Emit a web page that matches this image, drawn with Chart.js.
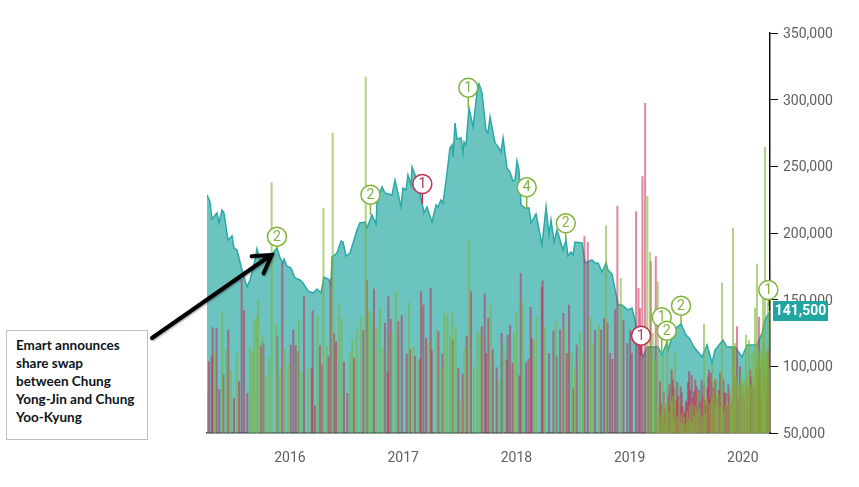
<!DOCTYPE html>
<html>
<head>
<meta charset="utf-8">
<style>
html, body { margin: 0; padding: 0; background: #fff; }
#wrap { position: relative; width: 859px; height: 487px; overflow: hidden; }
#nota {
  position: absolute; left: 6px; top: 330px; width: 131px; height: 103px;
  padding: 5px 0 0 9px; border: 1px solid #bfbfbf; background: #fff;
  font: bold 13.5px/18px Lato, sans-serif; color: #0b1420; white-space: nowrap;
}
</style>
</head>
<body>
<div id="wrap">
  <canvas id="grafico" width="859" height="487"></canvas>
  <div id="nota">Emart announces<br>share swap<br>between Chung<br>Yong-Jin and Chung<br>Yoo-Kyung</div>
</div>
<script src="https://cdn.jsdelivr.net/npm/chart.js@4"></script>
<script>
// precio de cierre
const precioFechas = [2015.267,2015.293,2015.311,2015.355,2015.373,2015.399,2015.417,2015.452,2015.488,2015.505,2015.532,2015.576,2015.620,2015.647,2015.691,2015.708,2015.735,2015.779,2015.841,2015.885,2015.912,2015.938,2015.947,2015.973,2016.009,2016.044,2016.088,2016.115,2016.159,2016.203,2016.239,2016.274,2016.300,2016.336,2016.362,2016.371,2016.415,2016.451,2016.468,2016.495,2016.530,2016.592,2016.618,2016.663,2016.680,2016.724,2016.760,2016.769,2016.813,2016.839,2016.901,2016.928,2016.981,
  2016.998,2017.025,2017.042,2017.069,2017.078,2017.122,2017.166,2017.184,2017.210,2017.254,2017.290,2017.307,2017.334,2017.352,2017.387,2017.413,2017.431,2017.440,2017.458,2017.475,2017.511,2017.528,2017.537,2017.555,2017.581,2017.617,2017.652,2017.670,2017.696,2017.731,2017.749,2017.767,2017.811,2017.846,2017.864,2017.882,2017.917,2017.943,2017.970,2017.988,2018.005,2018.023,2018.041,2018.076,2018.111,2018.129,2018.173,2018.226,2018.262,2018.288,2018.306,2018.332,2018.359,2018.412,2018.438,2018.456,2018.482,2018.500,2018.518,2018.580,2018.606,2018.668,2018.694,2018.721,2018.756,2018.792,2018.809,2018.845,2018.898,2018.933,2018.986,2019.021,2019.048,2019.074,2019.118,2019.154,2019.180,2019.251,2019.286,2019.330,2019.339,2019.375,2019.410,2019.454,2019.498,2019.525,2019.569,2019.640,2019.684,2019.728,2019.754,2019.825,2019.860,2019.931,2019.993,2020.037,2020.125,2020.170,2020.196,2020.240];
const precioValores = [228500,223250,210500,215000,207500,217250,215000,194750,197750,188750,187250,172250,159500,164750,179750,188000,179750,182750,184250,188750,181250,177500,180500,175250,173750,166250,164750,162500,156500,155000,158000,155000,167000,165500,161000,182000,185000,194000,193250,182750,185000,202250,207500,208250,203750,213500,206750,223250,234500,230000,228500,239750,219500,
  233750,232250,243500,236000,249500,239750,222500,215000,219500,208250,221000,219500,224750,222500,245000,263750,266000,257000,282500,270500,271250,260000,268250,266000,293750,279500,305000,311750,305000,277250,275000,287000,267500,263750,260750,271250,248750,245750,239000,239750,254000,247250,221000,218750,218750,207500,214250,191000,219500,198500,209750,193250,202250,187250,194750,182750,185750,183500,193250,192500,177500,179750,177500,177500,170750,177500,172250,169250,146000,146000,142250,143750,134750,117500,107000,114500,114500,114500,108500,118250,112250,122000,128750,131750,123500,121250,114500,107000,116000,102500,112250,119750,114500,114500,107000,116000,116000,125000,134750,141500];

// volumen, sesiones al alza
const alzaFechas = [2015.264,2015.338,2015.402,2015.435,2015.476,2015.529,2015.647,2015.667,2015.685,2015.706,2015.720,2015.756,2015.788,2015.818,2015.838,2015.882,2015.912,2015.956,2015.985,2016.080,2016.103,2016.162,2016.242,2016.295,2016.324,2016.377,2016.433,2016.457,2016.530,2016.551,2016.589,2016.624,2016.669,2016.698,2016.722,2016.766,2016.795,2016.825,2016.898,2016.934,2017.051,2017.090,2017.134,2017.222,2017.296,2017.340,2017.364,2017.390,2017.414,2017.434,2017.464,2017.502,2017.540,2017.582,2017.626,2017.655,2017.679,2017.773,2017.850,2017.885,2017.979,2018.003,2018.056,2018.156,2018.179,2018.253,2018.347,2018.421,2018.489,2018.518,2018.562,2018.586,2018.656,2018.674,2018.730,2018.792,2018.922,2019.157,2019.181,2019.204,2019.224,2019.245,2019.248,2019.262,2019.283,2019.293,2019.304,2019.321,2019.333,2019.363,2019.380,2019.401,2019.439,2019.460,2019.480,2019.510,2019.533,2019.557,2019.583,2019.607,2019.657,2019.681,2019.731,2019.769,2019.813,2019.816,2019.887,2019.913,2019.931,2019.960,2019.996,2020.019,2020.028,2020.049,2020.055,2020.108,2020.125,2020.137,2020.178,2020.181,2020.196,2020.202,2020.223,
  2019.270,2019.312,2019.345,2019.372,2019.392,2019.420,2019.450,2019.470,2019.500,2019.520,2019.545,2019.570,2019.595,2019.620,2019.640,2019.668,2019.705,2019.722,2019.745,2019.760,2019.785,2019.800,2019.830,2019.845,2019.865,2019.895,2019.905,2019.922,2019.945,2019.970,2019.985,2020.005,2020.040,2020.068,2020.085,2020.100,2020.115,2020.130,2020.148,2020.160,2020.170,2020.188,2020.210,2020.230];
const alzaValores = [82250,109750,141000,112250,96750,109750,114750,111000,134750,136750,150250,123500,92250,106000,237750,131750,97250,113500,102250,134750,96000,97250,137250,218500,114750,275000,146000,136000,109750,119750,127250,137250,317000,141750,139750,129750,143500,113500,124750,156000,147750,114750,104750,117750,127250,97250,141000,138500,123500,140500,129750,73500,113500,194750,99750,126000,123500,147750,88500,115250,124750,141000,148500,119250,136750,129250,133500,129750,109750,98000,124750,109750,136000,116000,131000,205500,166000,227250,185500,124750,105000,70000,163500,62250,66000,107250,70000,72000,122250,74000,78000,110000,75000,64000,62000,66000,70000,72000,70000,80000,131750,76000,102250,89750,97250,162500,82250,203750,117250,85000,87250,89750,123500,84750,119750,143750,176750,112250,151000,117250,264500,111000,147000,
  60000,56000,66000,72000,60000,62000,58000,56000,57000,60000,58000,62000,66000,68000,62000,64000,72000,76000,80000,70000,78000,70000,66000,70000,72000,76000,68000,100000,92000,84000,96000,88000,92000,86000,110000,92000,104000,100000,110000,106000,112000,104000,108000,98000];

// volumen, sesiones a la baja
const bajaFechas = [2015.285,2015.308,2015.317,2015.352,2015.376,2015.411,2015.455,2015.505,2015.550,2015.573,2015.594,2015.623,2015.744,2015.765,2015.888,2015.932,2016.006,2016.029,2016.050,2016.074,2016.124,2016.192,2016.200,2016.221,2016.265,2016.286,2016.339,2016.359,2016.389,2016.407,2016.477,2016.507,2016.566,2016.648,2016.678,2016.742,2016.839,2016.863,2016.869,2016.890,2016.957,2016.987,2017.031,2017.060,2017.105,2017.149,2017.158,2017.178,2017.202,2017.243,2017.252,2017.311,2017.346,2017.437,2017.487,2017.526,2017.561,2017.599,2017.694,2017.720,2017.732,2017.752,2017.791,2017.826,2017.870,2017.914,2017.923,2017.944,2017.967,2018.026,2018.038,2018.085,2018.106,2018.126,2018.135,2018.224,2018.232,2018.288,2018.327,2018.356,2018.386,2018.415,2018.445,2018.465,2018.503,2018.533,2018.601,2018.630,2018.695,2018.748,2018.774,2018.804,2018.827,2018.848,2018.872,2018.892,2018.945,2018.980,2019.004,2019.019,2019.057,2019.078,2019.092,2019.113,2019.137,2019.166,2019.187,2019.231,2019.268,2019.292,2019.313,2019.351,2019.371,2019.392,2019.410,2019.430,2019.451,2019.469,2019.489,2019.504,2019.525,2019.548,2019.569,2019.592,2019.622,2019.636,2019.666,2019.687,2019.701,2019.719,2019.748,2019.799,2019.828,2019.849,2019.872,2019.916,2019.949,2019.975,2020.034,2020.064,2020.093,2020.122,2020.143,2020.152,2020.220,2020.223,2020.234,
  2019.262,2019.280,2019.300,2019.325,2019.340,2019.360,2019.382,2019.402,2019.420,2019.441,2019.460,2019.478,2019.497,2019.515,2019.535,2019.558,2019.580,2019.602,2019.612,2019.645,2019.657,2019.676,2019.695,2019.710,2019.728,2019.738,2019.757,2019.780,2019.790,2019.810,2019.838,2019.860,2019.882,2019.900,2019.930,2019.960,2019.988,2020.010,2020.045,2020.075,2020.110,2020.135,2020.165,2020.190,2020.210];
const bajaValores = [103500,107250,129000,128500,82750,93500,127250,76000,88500,164750,141750,79750,115250,117250,122250,177250,116000,127250,115500,111000,152250,98500,141750,70250,115500,101000,107250,166000,124750,118500,103000,79750,106000,127250,164250,158000,132250,96000,152250,135250,133500,138000,109250,112750,107250,105500,156000,146000,121000,158500,111750,126000,109250,119250,98500,94000,122750,156000,129750,154250,109750,136000,112750,99000,124750,104750,123500,131000,102250,93000,169750,102750,105250,144250,121000,159750,164250,109750,126500,107250,127250,139750,109750,146000,83000,116000,197250,193000,127250,127250,136000,132250,109750,105250,142250,220250,134750,117250,127250,109750,216000,158500,143500,242250,297250,114750,178500,182250,88500,62250,68500,86000,97250,83500,74750,77250,84750,69750,66000,72250,96000,93500,81000,84750,73500,89750,74750,83500,97250,94750,79750,94750,89750,79750,86000,113500,129750,99750,84750,97250,84750,100000,137000,99750,94750,112250,86000,
  60000,72000,80000,64000,78000,70000,90000,66000,88000,72000,80000,64000,74000,88000,82000,76000,90000,70000,82000,78000,86000,70000,92000,76000,88000,84000,90000,76000,82000,72000,80000,70000,78000,72000,92000,76000,84000,78000,70000,92000,80000,90000,78000,96000,82000];

const anios = [2016, 2017, 2018, 2019, 2020];
const ultimoPrecio = 141500;

// banderas de eventos
const banderaFechas = [2015.885,2016.711,2017.169,2017.575,2018.091,2018.436,2019.101,2019.284,2019.328,2019.454,2020.225];
const banderaCabeza = [197250,228750,236750,309000,234250,207250,123000,136750,126750,145500,157250];
const banderaBase = [188750,213500,221750,293750,218750,194000,108500,110750,116000,131750,145250];
const banderaTexto = ['2','2','1','1','4','2','1','1','2','2','1'];
const banderaTipo = ['v','v','r','v','v','v','r','v','v','v','v'];

// flecha de la nota
const flechaX = [2014.781, 2015.838];
const flechaY = [121250, 183500];

const VERDE = '#7fb33c';
const ROJO = '#c0304f';

const pluginBanderas = {
    id: 'banderas',
    afterDraw(chart) {
        const ctx = chart.ctx;
        const x = chart.scales.x;
        const y = chart.scales.y;

        // flecha
        const x0 = x.getPixelForValue(flechaX[0]), y0 = y.getPixelForValue(flechaY[0]);
        const x1 = x.getPixelForValue(flechaX[1]), y1 = y.getPixelForValue(flechaY[1]);
        const ang = Math.atan2(y1 - y0, x1 - x0);
        ctx.save();
        ctx.strokeStyle = '#000';
        ctx.lineWidth = 4;
        ctx.lineCap = 'round';
        ctx.shadowColor = 'rgba(0,0,0,0.35)';
        ctx.shadowBlur = 2;
        ctx.shadowOffsetX = 1;
        ctx.shadowOffsetY = 1;
        ctx.beginPath();
        ctx.moveTo(x0, y0);
        ctx.lineTo(x1 - 2, y1 + 1);
        ctx.moveTo(x1 - 20 * Math.cos(ang - 0.55), y1 - 20 * Math.sin(ang - 0.55));
        ctx.lineTo(x1, y1);
        ctx.lineTo(x1 - 20 * Math.cos(ang + 0.55), y1 - 20 * Math.sin(ang + 0.55));
        ctx.stroke();
        ctx.restore();

        // banderas
        banderaFechas.forEach((f, i) => {
            const px = x.getPixelForValue(f);
            const color = banderaTipo[i] === 'r' ? ROJO : VERDE;
            const cy = y.getPixelForValue(banderaCabeza[i]);
            ctx.save();
            ctx.strokeStyle = color;
            ctx.lineWidth = 1.5;
            ctx.beginPath();
            ctx.moveTo(px, cy);
            ctx.lineTo(px, y.getPixelForValue(banderaBase[i]));
            ctx.stroke();
            ctx.fillStyle = '#fff';
            ctx.beginPath();
            ctx.arc(px, cy, 9.5, 0, Math.PI * 2);
            ctx.fill();
            ctx.stroke();
            ctx.fillStyle = color;
            ctx.font = '14px Roboto';
            ctx.textAlign = 'center';
            ctx.textBaseline = 'middle';
            ctx.fillText(banderaTexto[i], px, cy + 0.5);
            ctx.restore();
        });

        // etiqueta del ultimo precio
        const yu = y.getPixelForValue(ultimoPrecio);
        ctx.save();
        ctx.fillStyle = '#20a5a0';
        ctx.fillRect(x.right + 3, yu - 10, 55, 20);
        ctx.fillStyle = '#fff';
        ctx.font = 'bold 14px Roboto';
        ctx.textAlign = 'center';
        ctx.textBaseline = 'middle';
        ctx.fillText(ultimoPrecio.toLocaleString('en-US'), x.right + 30.5, yu + 0.5);
        ctx.restore();
    }
};

new Chart(document.getElementById('grafico'), {
    type: 'bar',
    data: {
        datasets: [{
            type: 'line',
            data: precioFechas.map((f, i) => ({ x: f, y: precioValores[i] })),
            borderColor: '#2aa9a5',
            borderWidth: 1.5,
            backgroundColor: 'rgba(32, 165, 160, 0.66)',
            fill: 'start',
            tension: 0,
            pointRadius: 0,
            order: 3
        }, {
            data: bajaFechas.map((f, i) => ({ x: f, y: bajaValores[i] })),
            backgroundColor: 'rgba(196, 40, 80, 0.55)',
            barThickness: 1.4,
            grouped: false,
            order: 2
        }, {
            data: alzaFechas.map((f, i) => ({ x: f, y: alzaValores[i] })),
            backgroundColor: 'rgba(127, 179, 60, 0.6)',
            barThickness: 1.4,
            grouped: false,
            order: 1
        }]
    },
    options: {
        responsive: false,
        animation: false,
        layout: { padding: { left: 207, top: 33, right: 0, bottom: 0 } },
        plugins: { legend: { display: false }, tooltip: { enabled: false } },
        scales: {
            x: {
                type: 'linear',
                min: 2015.267,
                max: 2020.24,
                offset: false,
                grid: { display: false, drawTicks: false },
                border: { color: '#333', width: 1.5 },
                afterBuildTicks: s => { s.ticks = anios.map(a => ({ value: a })); },
                afterFit: s => { s.height = 54; },
                ticks: {
                    autoSkip: false,
                    maxRotation: 0,
                    padding: 17,
                    color: '#606060',
                    font: { family: 'Roboto', size: 14 },
                    callback: v => String(v)
                }
            },
            y: {
                position: 'right',
                min: 50000,
                max: 350000,
                grid: { drawOnChartArea: false, color: '#111', tickLength: 8 },
                border: { color: '#111', width: 1.5 },
                afterFit: s => { s.width = 89; },
                ticks: {
                    stepSize: 50000,
                    padding: 5,
                    color: '#606060',
                    // dos lineas para bajar el texto hasta la marca
                    font: { family: 'Roboto', size: 14, lineHeight: '3px' },
                    callback: v => ['', v.toLocaleString('en-US')]
                }
            }
        }
    },
    plugins: [pluginBanderas]
});
</script>
</body>
</html>
